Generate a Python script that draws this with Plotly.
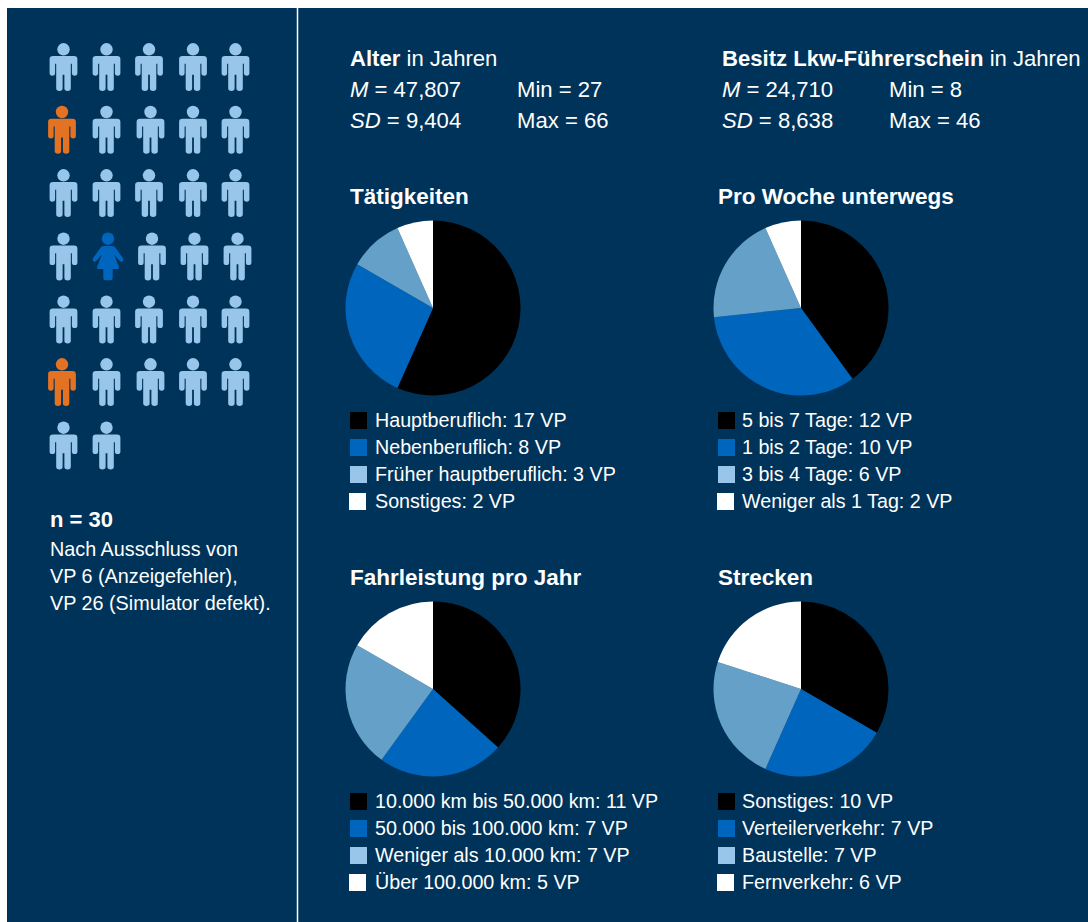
import plotly.graph_objects as go

# ---------- data ----------
age_stats = ["<b>Alter</b> in Jahren", "<i>M</i> = 47,807", "<i>SD</i> = 9,404"]
age_range = ["Min = 27", "Max = 66"]
licence_stats = ["<b>Besitz Lkw-Führerschein</b> in Jahren", "<i>M</i> = 24,710", "<i>SD</i> = 8,638"]
licence_range = ["Min = 8", "Max = 46"]

taetig_labels = ["Hauptberuflich", "Nebenberuflich", "Früher hauptberuflich", "Sonstiges"]
taetig_values = [17, 8, 3, 2]
woche_labels = ["5 bis 7 Tage", "1 bis 2 Tage", "3 bis 4 Tage", "Weniger als 1 Tag"]
woche_values = [12, 10, 6, 2]
fahr_labels = ["10.000 km bis 50.000 km", "50.000 bis 100.000 km", "Weniger als 10.000 km", "Über 100.000 km"]
fahr_values = [11, 7, 7, 5]
strecke_labels = ["Sonstiges", "Verteilerverkehr", "Baustelle", "Fernverkehr"]
strecke_values = [10, 7, 7, 6]

sample_title = "n = 30"
sample_notes = ["Nach Ausschluss von", "VP 6 (Anzeigefehler),", "VP 26 (Simulator defekt)."]

# m = male, o = male orange, w = female
people_rows = [
    ("mmmmm", [63.5, 106.5, 149, 193, 235.5], 43.3),
    ("ommmm", [62, 106.5, 150.5, 193, 235.5], 106),
    ("mmmmm", [63.5, 106.5, 149, 193, 235.5], 169.3),
    ("mwmmm", [63.5, 108, 152, 194.5, 237.5], 232.7),
    ("mmmmm", [63.5, 106.5, 149, 193, 235.5], 295.7),
    ("ommmm", [62, 106.5, 150.5, 193, 235.5], 358.3),
    ("mm", [63.5, 106.5], 421.7),
]

# ---------- style ----------
BG = "#003359"
PIE_COLORS = ["#000000", "#0065BD", "#64A0C8", "#FFFFFF"]
KEY_COLORS = ["#000000", "#0065BD", "#98C6EA", "#FFFFFF"]
KEY_DX = [0, 0, 0, -1]
PERSON = {"m": "#98C6EA", "o": "#E37222", "w": "#0065BD"}
FONT = "Liberation Sans"
LEFT, TOP = 7, 8
W, H = 1081, 914


def man_path(cx, top):
    p = lambda x, y: f"{cx + x:.2f},{top + y:.2f}"
    return (
        f"M{p(-10.5, 12.7)} L{p(10.5, 12.7)} Q{p(13.9, 12.7)} {p(13.9, 16)} L{p(13.9, 29.8)} "
        f"Q{p(13.9, 32.4)} {p(11.2, 32.4)} Q{p(8.4, 32.4)} {p(8.4, 29.8)} L{p(8.4, 20.5)} L{p(7.3, 20.5)} "
        f"L{p(7.3, 45)} Q{p(7.3, 47.7)} {p(4.1, 47.7)} Q{p(0.9, 47.7)} {p(0.9, 45)} L{p(0.9, 31.5)} "
        f"L{p(-0.9, 31.5)} L{p(-0.9, 45)} Q{p(-0.9, 47.7)} {p(-4.1, 47.7)} Q{p(-7.3, 47.7)} {p(-7.3, 45)} "
        f"L{p(-7.3, 20.5)} L{p(-8.4, 20.5)} L{p(-8.4, 29.8)} Q{p(-8.4, 32.4)} {p(-11.2, 32.4)} Q{p(-13.9, 32.4)} {p(-13.9, 29.8)} "
        f"L{p(-13.9, 16)} Q{p(-13.9, 12.7)} {p(-10.5, 12.7)} Z"
    )


def woman_path(cx, top):
    p = lambda x, y: f"{cx + x:.2f},{top + y:.2f}"
    return (
        f"M{p(-4.5, 13.3)} L{p(4.5, 13.3)} Q{p(6.5, 13.3)} {p(7.5, 15)} L{p(15, 25.5)} "
        f"Q{p(16, 27.8)} {p(14.2, 28.7)} Q{p(12.2, 29.5)} {p(11, 27.6)} L{p(6, 21.5)} "
        f"L{p(10.9, 34)} Q{p(11.3, 36.3)} {p(9.5, 36.3)} L{p(4.7, 36.3)} L{p(4.7, 45)} "
        f"Q{p(4.7, 47.5)} {p(2.5, 47.5)} L{p(-2.5, 47.5)} Q{p(-4.7, 47.5)} {p(-4.7, 45)} L{p(-4.7, 36.3)} "
        f"L{p(-9.5, 36.3)} Q{p(-11.3, 36.3)} {p(-10.9, 34)} L{p(-6, 21.5)} L{p(-11, 27.6)} "
        f"Q{p(-12.2, 29.5)} {p(-14.2, 28.7)} Q{p(-16, 27.8)} {p(-15, 25.5)} L{p(-7.5, 15)} "
        f"Q{p(-6.5, 13.3)} {p(-4.5, 13.3)} Z"
    )


fig = go.Figure()
shapes, annotations = [], []


def text(x, y, s, size=20, **kw):
    annotations.append(dict(
        x=x, y=y - 0.8, xref="x", yref="y", text=s, showarrow=False, xanchor="left", yanchor="middle",
        align="left", borderpad=0, borderwidth=0, font=dict(family=FONT, size=size, color="#FFFFFF"), **kw,
    ))


# ---------- people ----------
head_x, head_y, head_c = [], [], []
for kinds, xs, top in people_rows:
    for kind, cx in zip(kinds, xs):
        head_x.append(cx)
        head_y.append(top + 6)
        head_c.append(PERSON[kind])
        path = woman_path(cx, top) if kind == "w" else man_path(cx, top)
        shapes.append(dict(type="path", xref="x", yref="y", path=path, fillcolor=PERSON[kind],
                           line=dict(width=0), layer="above"))
fig.add_trace(go.Scatter(x=head_x, y=head_y, mode="markers", hoverinfo="skip", showlegend=False,
                         marker=dict(symbol="circle", size=12.4, color=head_c, line=dict(width=0))))

# ---------- divider ----------
shapes.append(dict(type="line", xref="x", yref="y", x0=297.5, x1=297.5, y0=TOP, y1=TOP + H,
                   line=dict(color="#FFFFFF", width=1.5)))

# ---------- left note ----------
text(50, 520, f"<b>{sample_title}</b>", size=22)
for i, line in enumerate(sample_notes):
    text(50, 550 + i * 27, line, size=19.8)

# ---------- header stats ----------
for x0, x1, stats, ranges in [(350, 517, age_stats, age_range), (722, 889, licence_stats, licence_range)]:
    for i, s in enumerate(stats):
        text(x0, 59 + i * 31, s, size=22.1)
    for i, s in enumerate(ranges):
        text(x1, 90 + i * 31, s, size=22.1)

# ---------- pies ----------
panels = [
    ("Tätigkeiten", taetig_labels, taetig_values, 350, 25, 197, 433, 308, 420.5),
    ("Pro Woche unterwegs", woche_labels, woche_values, 718, 24, 197, 801, 308, 420.5),
    ("Fahrleistung pro Jahr", fahr_labels, fahr_values, 350, 25, 578, 433, 689, 801.5),
    ("Strecken", strecke_labels, strecke_values, 718, 24, 578, 801, 689, 801.5),
]
R = 87.5
key_x, key_y, key_c = [], [], []
for title, labels, values, left, dx, ty, cx, cy, ky in panels:
    fig.add_trace(go.Pie(
        labels=labels, values=values, sort=False, direction="clockwise", rotation=0,
        marker=dict(colors=PIE_COLORS, line=dict(width=0)), textinfo="none", showlegend=False,
        domain=dict(x=[(cx - R - LEFT) / W, (cx + R - LEFT) / W],
                    y=[1 - (cy + R - TOP) / H, 1 - (cy - R - TOP) / H]),
    ))
    text(left, ty, f"<b>{title}</b>", size=22.5)
    for i, (lab, val) in enumerate(zip(labels, values)):
        key_x.append(left + 8.5 + KEY_DX[i])
        key_y.append(ky + i * 27)
        key_c.append(KEY_COLORS[i])
        text(left + dx, ky + i * 27, f"{lab}: {val} VP", size=19.7)
fig.add_trace(go.Scatter(x=key_x, y=key_y, mode="markers", hoverinfo="skip", showlegend=False,
                         marker=dict(symbol="square", size=17, color=key_c, line=dict(width=0))))

fig.update_layout(
    width=W, height=H, margin=dict(l=0, r=0, t=0, b=0), autosize=False,
    paper_bgcolor=BG, plot_bgcolor=BG, showlegend=False,
    xaxis=dict(range=[LEFT, LEFT + W], visible=False, fixedrange=True),
    yaxis=dict(range=[TOP + H, TOP], visible=False, fixedrange=True),
    shapes=shapes, annotations=annotations,
)
fig.write_html(
    "out.html",
    post_script=f"document.body.style.margin='{TOP}px 0 0 {LEFT}px';"
                "document.documentElement.style.overflow='hidden';",
)
